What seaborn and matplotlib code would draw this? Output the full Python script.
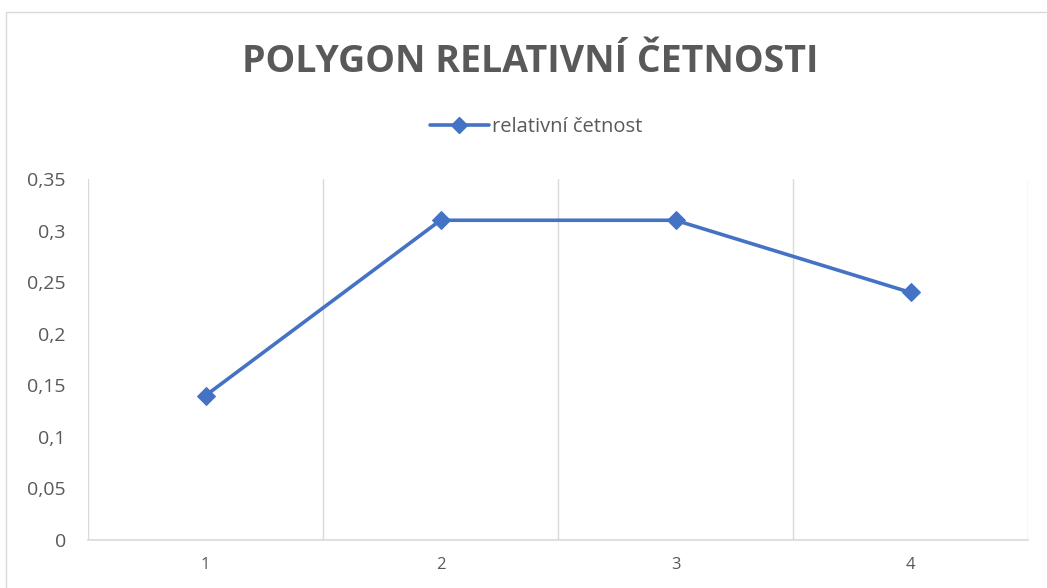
import matplotlib
matplotlib.use("Agg")
import matplotlib.pyplot as plt
import seaborn as sns
import pandas as pd
from matplotlib.patches import Rectangle
from matplotlib.lines import Line2D

categories = [1, 2, 3, 4]
rel_freq = [0.14, 0.31, 0.31, 0.24]
y_ticks = [0, 0.05, 0.1, 0.15, 0.2, 0.25, 0.3, 0.35]
y_tick_labels = ["0", "0,05", "0,1", "0,15", "0,2", "0,25", "0,3", "0,35"]
x_tick_labels = ["1", "2", "3", "4"]
title = "POLYGON RELATIVNÍ ČETNOSTI"
series_name = "relativní četnost"

sns.set_style("white")
plt.rcParams["font.family"] = ["Open Sans", "DejaVu Sans"]

df = pd.DataFrame({"x": categories, "y": rel_freq})

fig = plt.figure(figsize=(10.47, 5.88), dpi=100)
fig.patch.set_facecolor("white")
# outer chart border
fig.add_artist(Rectangle((6 / 1047, -0.05), 1.2, (588 - 12) / 588 + 0.05,
                         transform=fig.transFigure, fill=False,
                         edgecolor="#D9D9D9", linewidth=1.0))

ax = fig.add_axes([88 / 1047, 48 / 588, (1028 - 88) / 1047, (540 - 179) / 588])
blue = "#4472C4"
sns.lineplot(data=df, x="x", y="y", ax=ax, color=blue, linewidth=2.6,
             marker="D", markersize=9, markeredgecolor=blue, legend=False)

ax.set_xlim(0.5, 4.5)
ax.set_ylim(0, 0.35)
ax.set_xticks(categories)
ax.set_xticklabels(x_tick_labels, fontsize=12, color="#595959")
ax.set_yticks(y_ticks)
ax.set_yticklabels(y_tick_labels, fontsize=14, color="#595959")
ax.set_xticks([c + 0.5 for c in [0] + categories], minor=True)
ax.grid(False)
ax.grid(True, which="minor", axis="x", color="#D9D9D9", linewidth=1.0)
ax.tick_params(axis="both", which="both", length=0)
ax.tick_params(axis="x", pad=12)
ax.tick_params(axis="y", pad=16)
ax.set_xlabel("")
ax.set_ylabel("")
for s in ["left", "right", "top"]:
    ax.spines[s].set_visible(False)
ax.spines["bottom"].set_color("#D9D9D9")
ax.spines["bottom"].set_linewidth(1.2)

fig.text(530 / 1047, 1 - 62 / 588, title, ha="center", va="center",
         fontsize=27, fontweight="bold", color="#595959")

# legend
h = Line2D([], [], color=blue, linewidth=2.6, marker="D", markersize=8,
           markeredgecolor=blue)
fig.legend([h], [series_name], loc="center", bbox_to_anchor=(536 / 1047, 1 - 127 / 588),
           frameon=False, fontsize=14.5, labelcolor="#595959", handlelength=2.9,
           handletextpad=0.15)

fig.savefig("out.png", dpi=100)
